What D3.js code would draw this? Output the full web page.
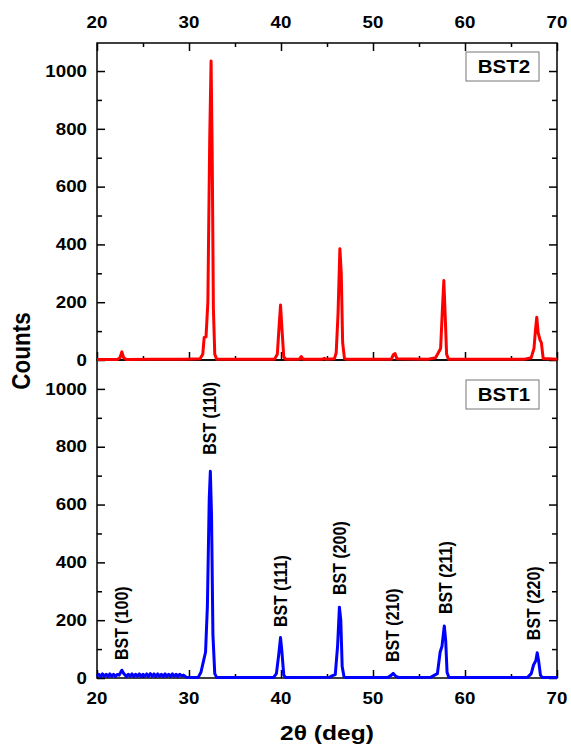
<!DOCTYPE html>
<html>
<head>
<meta charset="utf-8">
<script src="https://cdn.jsdelivr.net/npm/d3@7"></script>
<style>
  body { margin: 0; background: #fff; }
  text { font-family: Arial, "Liberation Sans", sans-serif; font-weight: bold; }
</style>
</head>
<body>
<div id="chart"></div>
<script>
// BST2 pattern (top panel), [2theta, counts]
const bst2Points = [
  [20, 2], [22.2, 2], [22.5, 8], [22.7, 28], [22.9, 8], [23.2, 2],
  [26, 3], [29.5, 3], [31.2, 4], [31.5, 20], [31.65, 78], [31.85, 80],
  [32.05, 200], [32.25, 760], [32.4, 1035], [32.52, 720], [32.65, 180], [32.8, 20], [33.0, 3],
  [39.3, 3], [39.6, 20], [39.8, 120], [39.95, 190], [40.1, 110], [40.3, 10], [40.5, 3],
  [42.0, 3], [42.2, 12], [42.4, 3], [44.5, 3], [44.7, 6], [44.9, 3],
  [45.8, 4], [46.0, 25], [46.2, 160], [46.4, 385], [46.55, 300], [46.7, 60], [46.9, 5], [47.1, 3],
  [52.0, 3], [52.2, 18], [52.4, 22], [52.6, 4], [56.0, 3], [56.8, 8],
  [57.1, 25], [57.35, 40], [57.55, 180], [57.7, 275], [57.85, 150], [58.0, 20], [58.2, 3],
  [66.5, 3], [67.2, 8], [67.5, 40], [67.65, 100], [67.8, 148], [67.95, 95], [68.15, 70], [68.3, 60], [68.5, 5], [70, 3]
];

// BST1 pattern (bottom panel); noisy baseline below 29.5
const bst1Points = [
  [20, 6], [20.2, 13], [20.4, 5], [20.6, 14], [20.8, 6], [21.0, 13], [21.2, 5], [21.4, 14],
  [21.6, 6], [21.8, 13], [22.0, 5], [22.2, 12], [22.4, 10], [22.55, 18], [22.7, 27], [22.85, 18], [23.0, 12],
  [23.2, 5], [23.4, 13], [23.6, 6], [23.8, 14], [24.0, 5], [24.2, 13], [24.4, 6], [24.6, 14],
  [24.8, 5], [25.0, 13], [25.2, 6], [25.4, 14], [25.6, 5], [25.8, 15], [26.0, 6], [26.2, 14],
  [26.4, 5], [26.6, 14], [26.8, 6], [27.0, 13], [27.2, 5], [27.4, 14], [27.6, 6], [27.8, 13],
  [28.0, 5], [28.2, 14], [28.4, 6], [28.6, 13], [28.8, 5], [29.0, 13], [29.2, 7], [29.4, 10],
  [29.7, 3], [31.0, 2], [31.3, 20], [31.55, 55], [31.8, 90],
  [32.0, 250], [32.2, 620], [32.32, 715], [32.45, 560], [32.6, 150], [32.8, 15], [33.0, 2],
  [39.2, 2], [39.5, 15], [39.75, 80], [39.95, 140], [40.1, 90], [40.3, 10], [40.5, 2],
  [45.3, 3], [45.6, 8], [45.9, 12], [46.15, 110], [46.35, 245], [46.5, 200], [46.65, 40], [46.85, 4], [47.0, 2],
  [51.6, 2], [52.0, 10], [52.2, 16], [52.5, 5], [52.8, 2],
  [56.3, 3], [56.6, 8], [57.0, 15], [57.3, 90], [57.5, 110], [57.75, 180], [57.9, 130], [58.05, 20], [58.25, 2],
  [66.8, 2], [67.2, 15], [67.45, 45], [67.7, 60], [67.85, 87], [68.0, 60], [68.2, 10], [68.4, 2], [70, 2]
];

const peakLabels = ["BST (100)", "BST (110)", "BST (111)", "BST (200)", "BST (210)", "BST (211)", "BST (220)"];
const peakAngles = [22.7, 32.3, 40.0, 46.4, 52.2, 57.9, 67.5];
const peakLabelCounts = [62, 772, 176, 287, 55, 221, 131];

const xTicks = [20, 30, 40, 50, 60, 70];
const yTicks = [0, 200, 400, 600, 800, 1000];

const W = 571, H = 746;
const plotL = 97, plotR = 557, plotT = 43, plotMid = 360, plotB = 678;
const SX = 1.17; // the original text is a bit wider than plain Arial

const svg = d3.select("#chart").append("svg")
  .attr("width", W).attr("height", H);

const x = d3.scaleLinear().domain([20, 70]).range([plotL, plotR]);
const yTop = d3.scaleLinear().domain([0, 1097]).range([plotMid, plotT]);
const yBot = d3.scaleLinear().domain([0, 1100]).range([plotB, plotMid]);

function label(parent, px, py, txt, size, anchor, rot) {
  return parent.append("text")
    .attr("transform", `translate(${px},${py}) scale(${SX},1)` + (rot ? ` rotate(${rot})` : ""))
    .attr("text-anchor", anchor).attr("font-size", size).text(txt);
}

function panel(y, pts, color, name, boxY, showTopLabels, showBottomLabels) {
  const g = svg.append("g");
  const [y0, y1] = y.range();

  // y axis left (inward ticks)
  const yl = g.append("g").attr("transform", `translate(${plotL},0)`)
    .call(d3.axisRight(y).tickValues(d3.range(0, 1100, 100)).tickSize(5).tickFormat(""));
  yl.selectAll(".tick line").attr("x2", d => d % 200 === 0 ? 8 : 5);
  yTicks.forEach(v => {
    label(g, plotL - 10, y(v) + 5.7, v, 16, "end");
  });
  // y axis right
  const yr = g.append("g").attr("transform", `translate(${plotR},0)`)
    .call(d3.axisLeft(y).tickValues(d3.range(0, 1100, 100)).tickSize(5).tickFormat(""));
  yr.selectAll(".tick line").attr("x2", d => d % 200 === 0 ? -8 : -5);

  // x axes
  const xb = g.append("g").attr("transform", `translate(0,${y0})`)
    .call(d3.axisTop(x).tickValues(d3.range(20, 71, 5)).tickSize(5).tickFormat(""));
  xb.selectAll(".tick line").attr("y2", d => d % 10 === 0 ? -8 : -4);
  if (showTopLabels) {
    const xt = g.append("g").attr("transform", `translate(0,${y1})`)
      .call(d3.axisBottom(x).tickValues(d3.range(20, 71, 5)).tickSize(5).tickFormat(""));
    xt.selectAll(".tick line").attr("y2", d => d % 10 === 0 ? 8 : 4);
    xTicks.forEach(v => label(g, x(v), 28, v, 16, "middle"));
  }
  if (showBottomLabels) {
    xTicks.forEach(v => label(g, x(v), 704, v, 16, "middle"));
  }
  g.selectAll(".domain").remove();
  g.selectAll(".tick line").attr("stroke", "#000").attr("stroke-width", 1.5);

  // frame
  g.append("rect").attr("x", plotL).attr("y", y1).attr("width", plotR - plotL).attr("height", y0 - y1)
    .attr("fill", "none").attr("stroke", "#000").attr("stroke-width", 1.5);

  // data line
  const line = d3.line().x(d => x(d[0])).y(d => y(d[1]));
  g.append("path").datum(pts).attr("d", line)
    .attr("fill", "none").attr("stroke", color).attr("stroke-width", 3)
    .attr("stroke-linejoin", "round");

  // name box
  g.append("rect").attr("x", 466).attr("y", boxY).attr("width", 73).attr("height", 29)
    .attr("fill", "#fff").attr("stroke", "#777").attr("stroke-width", 1);
  label(g, 504, boxY + 21, name, 17.5, "middle");
  return g;
}

panel(yBot, bst1Points, "#0000ff", "BST1", 380, false, true);
panel(yTop, bst2Points, "#ff0000", "BST2", 52, true, false);

// peak annotations
peakLabels.forEach((t, i) => {
  const px = x(peakAngles[i]) + 6, py = yBot(peakLabelCounts[i]);
  label(svg, px, py, t, 16, "start", -90);
});

// axis titles
label(svg, 30, 351, "Counts", 22.5, "middle", -90);
label(svg, 327, 740, "2θ (deg)", 21, "middle");
</script>
</body>
</html>
